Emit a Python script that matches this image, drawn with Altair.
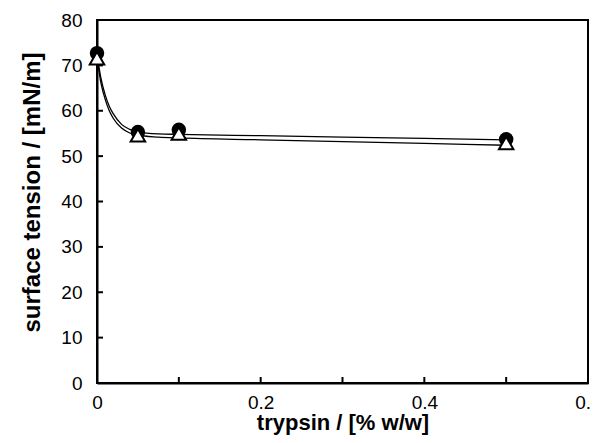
import altair as alt
import pandas as pd

# measured points
trypsin = [0.0, 0.05, 0.1, 0.5]
st_circle = [72.7, 55.3, 55.8, 53.7]
st_triangle = [71.6, 54.6, 55.0, 52.9]

# fitted curves
fit_x = [0.0, 0.005, 0.01, 0.015, 0.02, 0.03, 0.04, 0.05, 0.075, 0.1, 0.2, 0.3, 0.4, 0.5]
fit_circle = [72.5, 67.0, 63.5, 61.0, 59.3, 57.0, 55.9, 55.3, 54.9, 54.8, 54.5, 54.2, 53.9, 53.6]
fit_triangle = [71.5, 66.0, 62.5, 60.0, 58.3, 56.2, 55.1, 54.6, 54.2, 54.0, 53.6, 53.2, 52.8, 52.4]

x_ticks = [0.0, 0.1, 0.2, 0.3, 0.4, 0.5, 0.6]
x_labels = [0.0, 0.2, 0.4, 0.6]
y_ticks = [0, 10, 20, 30, 40, 50, 60, 70, 80]

pts = pd.DataFrame({"x": trypsin + trypsin,
                    "y": st_circle + st_triangle,
                    "s": ["circle"] * 4 + ["triangle"] * 4})
fits = pd.DataFrame({"x": fit_x + fit_x,
                     "y": fit_circle + fit_triangle,
                     "s": ["circle"] * len(fit_x) + ["triangle"] * len(fit_x)})

FONT = "Liberation Sans"
xs = alt.Scale(domain=[0, 0.6], nice=False, zero=False)
ys = alt.Scale(domain=[0, 80], nice=False)

xax = alt.Axis(values=x_labels, format="~g", title="trypsin / [% w/w]", ticks=False,
               grid=False, domainColor="black", domainWidth=2, labelFont=FONT,
               labelFontSize=19, labelColor="black", labelPadding=10,
               titleFont=FONT, titleFontSize=22, titleFontWeight="bold",
               titleColor="black", titleBaseline="alphabetic", titleY=46,
               labelFlush=False)
yax = alt.Axis(values=y_ticks, title="surface tension / [mN/m]", ticks=False,
               grid=False, domainColor="black", domainWidth=2, labelFont=FONT,
               labelFontSize=19, labelColor="black", labelPadding=15,
               titleFont=FONT, titleFontSize=24, titleFontWeight="bold",
               titleColor="black", titlePadding=16, titleY=172)

base_x = alt.X("x:Q", scale=xs, axis=xax)
base_y = alt.Y("y:Q", scale=ys, axis=yax)

lines = alt.Chart(fits).mark_line(color="black", strokeWidth=1.3, interpolate="monotone").encode(
    x=base_x, y=base_y, detail="s:N")

circles = alt.Chart(pts[pts.s == "circle"]).mark_point(
    shape="circle", filled=True, color="black", size=210, opacity=1).encode(x=base_x, y=base_y)
tris = alt.Chart(pts[pts.s == "triangle"]).mark_point(
    shape="triangle-up", filled=True, fill="white", stroke="black", strokeWidth=2,
    size=210, opacity=1).encode(x=base_x, y=base_y)

xt = alt.Chart(pd.DataFrame({"x": x_ticks})).mark_rule(color="black", strokeWidth=2).encode(
    x=base_x, y=alt.value(363), y2=alt.value(357))
yt = alt.Chart(pd.DataFrame({"y": y_ticks})).mark_rule(color="black", strokeWidth=2).encode(
    y=base_y, x=alt.value(0), x2=alt.value(6))

chart = alt.layer(lines, xt, yt, circles, tris).properties(
    width=491, height=363, autosize="none",
    padding={"left": 89, "top": 12, "right": 4, "bottom": 52},
).configure(background="white").configure_view(stroke="black", strokeWidth=2)

chart.save("out.html", embed_options={"renderer": "svg", "actions": False})
